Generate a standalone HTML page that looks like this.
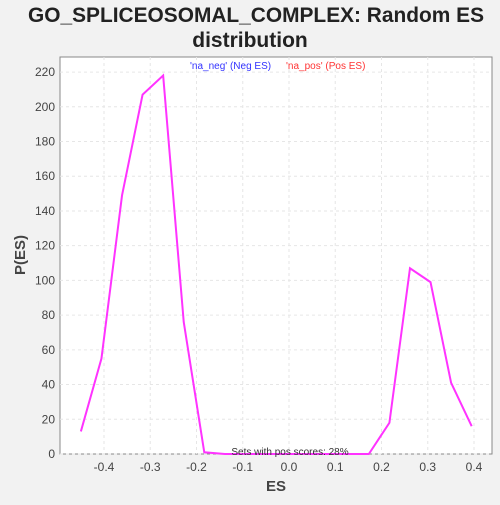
<!DOCTYPE html>
<html><head><meta charset="utf-8"><style>
body{margin:0;background:#f2f2f2;font-family:"Liberation Sans",sans-serif;}
</style></head><body>
<svg width="500" height="500" xmlns="http://www.w3.org/2000/svg">
<rect width="500" height="500" fill="#f2f2f2"/>
<text x="28" y="22" textLength="456" lengthAdjust="spacingAndGlyphs" font-size="21" font-weight="bold" fill="#222">GO_SPLICEOSOMAL_COMPLEX: Random ES</text>
<text x="250" y="47" text-anchor="middle" font-size="21" font-weight="bold" fill="#222">distribution</text>
<rect x="60" y="57" width="432" height="397" fill="#fff" stroke="#888"/>
<g id="grid"></g>
<g id="axes"></g>
<text x="190" y="69" font-size="10" fill="#3333ff">'na_neg' (Neg ES)</text>
<text x="286" y="69" font-size="10" fill="#ff3333">'na_pos' (Pos ES)</text>
<polyline id="line" fill="none" stroke="#ff33ff" stroke-width="2"/>
<text x="290" y="455" text-anchor="middle" font-size="10" fill="#333">Sets with pos scores: 28%</text>
<text x="276" y="491" text-anchor="middle" font-size="15" font-weight="bold" fill="#444">ES</text>
<text transform="translate(25,255) rotate(-90)" text-anchor="middle" font-size="15" font-weight="bold" fill="#444">P(ES)</text>
</svg>
<script>
const esValues=[-0.45,-0.4055,-0.361,-0.3166,-0.2721,-0.2276,-0.1832,-0.1387,-0.0942,-0.0497,-0.0053,0.0392,0.0837,0.1281,0.1726,0.2171,0.2616,0.3060,0.3505,0.395];
const pValues=[13,55,149,207,218,76,1,0,0,0,0,0,0,0,0,18,107,99,41,16];
const xTicks=[-0.4,-0.3,-0.2,-0.1,0.0,0.1,0.2,0.3,0.4];
const yTicks=[0,20,40,60,80,100,120,140,160,180,200,220];
const X=v=>289+v*462.5, Y=v=>454-v*1.736;
const ns="http://www.w3.org/2000/svg";
const grid=document.getElementById('grid'), axes=document.getElementById('axes');
function mk(t,a,p){const e=document.createElementNS(ns,t);for(const k in a)e.setAttribute(k,a[k]);p.appendChild(e);return e;}
xTicks.forEach(v=>{
 const g=mk('line',{x1:X(v),x2:X(v),y1:57,y2:454,stroke:'#e6e6e6','stroke-dasharray':'3,3'},grid);
 
 
 const t=mk('text',{x:X(v),y:471,'text-anchor':'middle','font-size':12,fill:'#444'},axes);
 t.textContent=v.toFixed(1);
 
 
});
yTicks.forEach(v=>{
 const g=mk('line',{x1:60,x2:492,y1:Y(v),y2:Y(v),stroke:'#e6e6e6','stroke-dasharray':'3,3'},grid);
 
 
 const t=mk('text',{x:55,y:Y(v)+4,'text-anchor':'end','font-size':12,fill:'#444'},axes);
 t.textContent=v;
 
 
});
document.getElementById('line').setAttribute('points',esValues.map((x,i)=>X(x)+','+Y(pValues[i])).join(' '));
</script>
</body></html>
